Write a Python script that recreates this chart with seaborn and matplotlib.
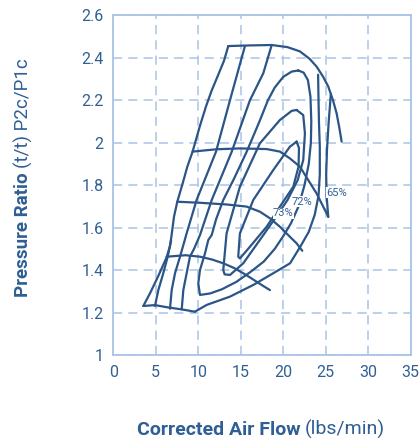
import matplotlib
matplotlib.use("Agg")
import matplotlib.pyplot as plt
import seaborn as sns
import pandas as pd

# ---- data (Corrected Air Flow lbs/min, Pressure Ratio) ----
surge_x = [3.53, 4.31, 5.29, 6.27, 6.67, 6.86, 7.14, 7.53, 8.16, 8.71, 9.33, 10.2, 10.9, 11.57, 12.35, 13.02, 13.53]
surge_y = [1.231, 1.29, 1.372, 1.46, 1.513, 1.565, 1.651, 1.722, 1.808, 1.887, 1.958, 2.08, 2.17, 2.245, 2.32, 2.385, 2.455]

top_x = [13.53, 16.0, 18.64, 20.5, 21.96, 23.1, 23.93, 24.7, 25.3, 25.85, 26.28, 26.6, 26.87]
top_y = [2.455, 2.458, 2.46, 2.45, 2.43, 2.395, 2.358, 2.31, 2.264, 2.2, 2.138, 2.07, 2.005]

speed20_x = [9.33, 12.16, 14.9, 18.04, 19.61, 20.78, 21.96, 22.94, 23.92, 24.7, 25.29]
speed20_y = [1.958, 1.969, 1.973, 1.97, 1.958, 1.926, 1.887, 1.824, 1.761, 1.699, 1.652]

speed17_x = [7.53, 10.2, 13.33, 15.69, 17.25, 18.43, 19.61, 20.78, 21.57, 22.24]
speed17_y = [1.722, 1.717, 1.709, 1.699, 1.675, 1.644, 1.604, 1.557, 1.526, 1.491]

speed15_x = [6.27, 8.5, 10.2, 11.6, 12.94, 14.2, 15.29, 16.1, 16.87, 17.65, 18.43]
speed15_y = [1.463, 1.47, 1.463, 1.45, 1.432, 1.41, 1.385, 1.365, 1.345, 1.325, 1.306]

speed12_x = [3.53, 4.9, 6.47, 8.04, 9.6]
speed12_y = [1.231, 1.235, 1.224, 1.215, 1.204]

lineb_x = [4.9, 5.3, 5.88, 6.4, 6.8]
lineb_y = [1.231, 1.306, 1.385, 1.463, 1.54]

linec_x = [6.67, 6.87, 7.26, 7.85, 8.63, 9.8, 12.08, 13.73, 15.49]
linec_y = [1.218, 1.306, 1.385, 1.463, 1.573, 1.73, 1.957, 2.2, 2.455]

lined_x = [8.05, 8.24, 8.63, 9.02, 9.5, 10.2, 11.58, 13.93, 16.08, 17.65, 18.64]
lined_y = [1.215, 1.306, 1.385, 1.463, 1.5, 1.565, 1.73, 1.957, 2.2, 2.327, 2.46]

eff65_x = [9.6, 10.99, 13.73, 16.47, 18.82, 20.8, 22.0, 23.0, 23.7, 24.15, 24.3, 24.3, 24.2, 24.15, 24.1]
eff65_y = [1.204, 1.236, 1.275, 1.33, 1.385, 1.432, 1.51, 1.58, 1.66, 1.75, 1.85, 1.98, 2.1, 2.2, 2.32]

edge_x = [25.6, 25.35, 25.15, 25.05, 25.1, 25.3]
edge_y = [2.23, 2.1, 1.97, 1.85, 1.75, 1.65]

eff70_x = [21.77, 21.0, 20.0, 19.0, 18.2, 17.2, 15.69, 14.2, 12.94, 12.1, 11.58, 11.18, 10.79, 10.2, 10.0, 10.2,
           11.4, 12.8, 14.5, 16.1, 17.7, 19.0, 20.0, 20.9, 21.8, 22.5, 23.0, 23.25, 23.3, 23.2, 22.9, 22.4, 21.77]
eff70_y = [2.34, 2.335, 2.31, 2.26, 2.2, 2.1, 1.957, 1.83, 1.73, 1.64, 1.565, 1.542, 1.479, 1.40, 1.338, 1.283,
           1.29, 1.31, 1.345, 1.39, 1.44, 1.5, 1.56, 1.62, 1.70, 1.8, 1.9, 2.0, 2.1, 2.217, 2.295, 2.33, 2.34]

eff72_x = [21.57, 21.0, 19.61, 17.25, 14.9, 13.33, 12.94, 13.1, 13.73, 15.29, 17.25, 18.9, 20.5, 21.7, 22.35, 22.55, 22.35, 21.57]
eff72_y = [2.154, 2.15, 2.107, 1.997, 1.793, 1.573, 1.40, 1.38, 1.377, 1.432, 1.542, 1.636, 1.73, 1.824, 1.918, 2.044, 2.13, 2.154]

eff73_x = [21.57, 20.78, 18.82, 16.47, 14.9, 14.7, 14.9, 16.08, 18.04, 19.61, 21.18, 21.8, 21.85, 21.57]
eff73_y = [2.005, 1.981, 1.871, 1.73, 1.573, 1.463, 1.455, 1.51, 1.604, 1.699, 1.793, 1.887, 1.975, 2.005]

label_text = ["73%", "72%", "65%"]
label_x = [18.8, 21.0, 25.1]
label_y = [1.667, 1.722, 1.765]

x_ticks = [0, 5, 10, 15, 20, 25, 30, 35]
y_ticks = [1, 1.2, 1.4, 1.6, 1.8, 2, 2.2, 2.4, 2.6]
y_tick_labels = ["1", "1.2", "1.4", "1.6", "1.8", "2", "2.2", "2.4", "2.6"]

curves = {
    "surge": (surge_x, surge_y), "top": (top_x, top_y),
    "s20": (speed20_x, speed20_y), "s17": (speed17_x, speed17_y),
    "s15": (speed15_x, speed15_y), "s12": (speed12_x, speed12_y),
    "b": (lineb_x, lineb_y), "c": (linec_x, linec_y), "d": (lined_x, lined_y),
    "e65": (eff65_x, eff65_y), "edge": (edge_x, edge_y), "e70": (eff70_x, eff70_y),
    "e72": (eff72_x, eff72_y), "e73": (eff73_x, eff73_y),
}
rows = []
for name, (xs, ys) in curves.items():
    for i, (a, b) in enumerate(zip(xs, ys)):
        rows.append({"curve": name, "order": i, "flow": a, "pr": b})
df = pd.DataFrame(rows)

# ---- style ----
sns.set_theme(style="white")
plt.rcParams['font.family'] = ['Roboto', 'DejaVu Sans']

LINE = "#2b5586"
GRID = "#a9c4e6"
TXT = "#2f5f93"

fig = plt.figure(figsize=(4.2, 4.43), dpi=100)
ax = fig.add_axes([0.2698, 0.1986, 0.7081, 0.7669])

sns.lineplot(data=df, x="flow", y="pr", units="curve", estimator=None, sort=False,
             color=LINE, linewidth=1.6, ax=ax, legend=False)
for ln in ax.lines:
    ln.set_solid_joinstyle("round")
    ln.set_solid_capstyle("round")

for t, lx, ly in zip(label_text, label_x, label_y):
    ax.text(lx, ly, t, color=TXT, fontsize=8, ha="left", va="center",
            bbox=dict(facecolor="white", edgecolor="none", pad=0.2))

ax.set_xlim(0, 35)
ax.set_ylim(1, 2.6)
ax.set_xticks(x_ticks)
ax.set_yticks(y_ticks)
ax.set_yticklabels(y_tick_labels)
ax.grid(True, color=GRID, linestyle=(0, (6, 4)), linewidth=1.1)
ax.set_axisbelow(True)
for s in ax.spines.values():
    s.set_color(GRID)
    s.set_linewidth(1.3)
ax.tick_params(axis="both", colors=GRID, labelcolor=TXT, labelsize=11.5,
               length=4, width=1.1, direction="out", pad=3)
ax.set_xlabel("")
ax.set_ylabel("")

# x label: bold part + regular part
tb = fig.text(0.326, 0.018, "Corrected Air Flow", fontsize=14, fontweight="bold",
              color=TXT, ha="left", va="baseline")
fig.canvas.draw()
bb = tb.get_window_extent()
fig.text((bb.x1 + 4) / fig.bbox.width, 0.018, "(lbs/min)", fontsize=14,
         color=TXT, ha="left", va="baseline")

# y label: bold part + regular part
ty = fig.text(0.055, 0.33, "Pressure Ratio", fontsize=13.5, fontweight="bold",
              color=TXT, rotation=90, ha="center", va="bottom")
fig.canvas.draw()
bb = ty.get_window_extent()
fig.text(0.055, (bb.y1 + 4) / fig.bbox.height, "(t/t) P2c/P1c", fontsize=13.5,
         color=TXT, rotation=90, ha="center", va="bottom")

fig.savefig("out.png", dpi=100, facecolor="white")
